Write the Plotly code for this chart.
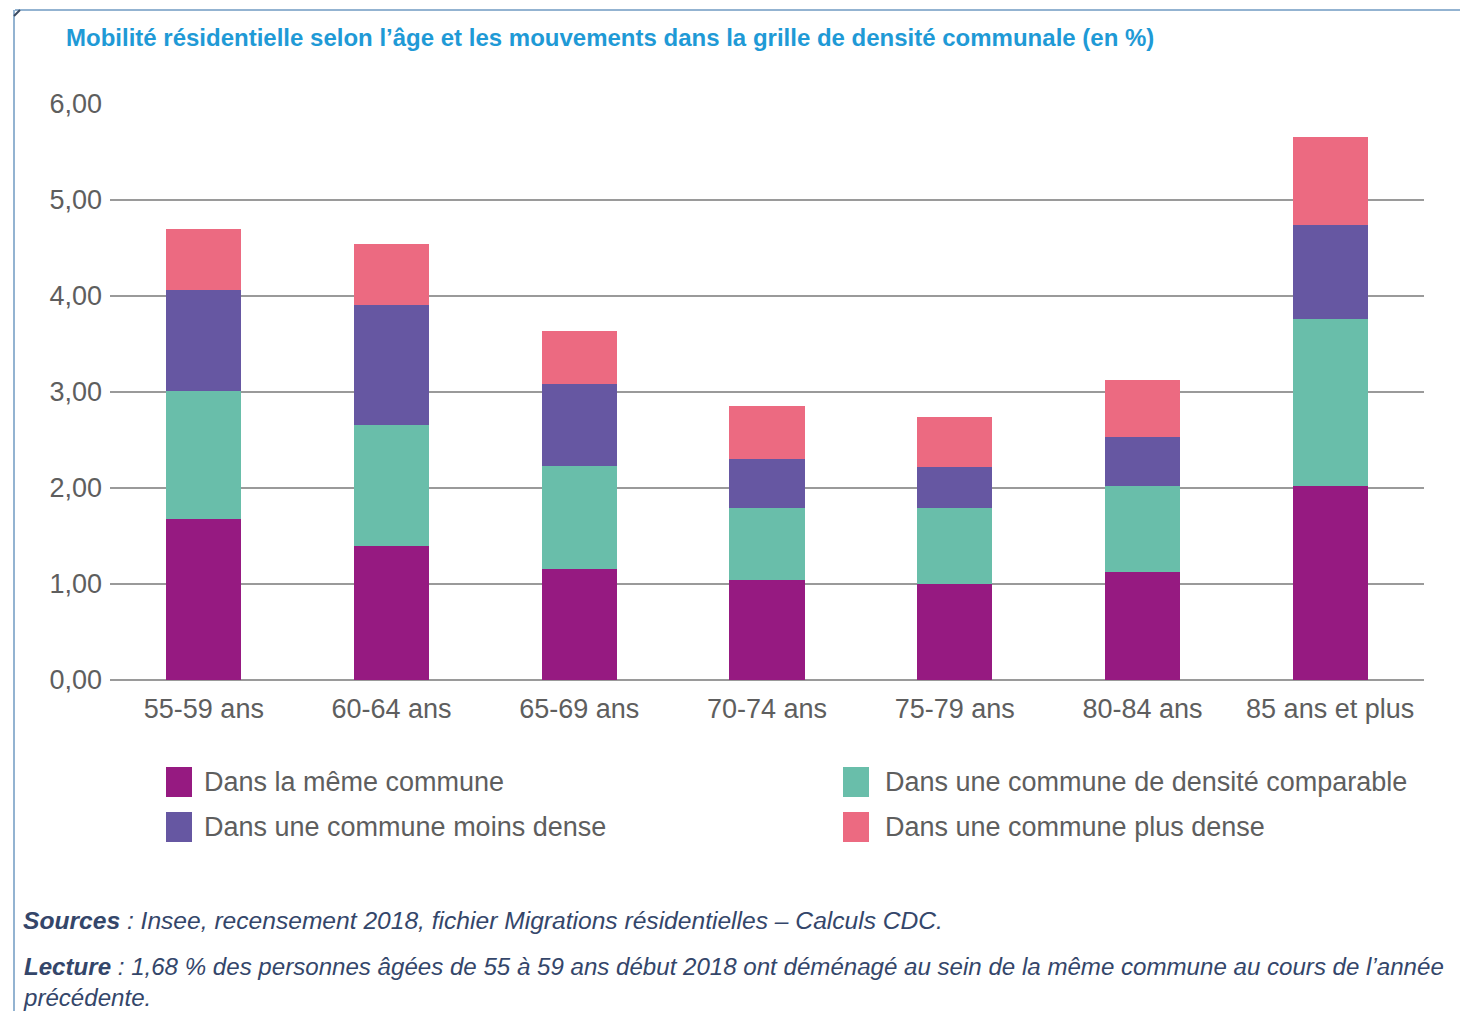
import plotly.graph_objects as go

categories = ["55-59 ans", "60-64 ans", "65-69 ans", "70-74 ans", "75-79 ans", "80-84 ans", "85 ans et plus"]
meme_commune = [1.68, 1.40, 1.16, 1.04, 1.00, 1.13, 2.02]
densite_comparable = [1.33, 1.26, 1.07, 0.75, 0.79, 0.89, 1.74]
moins_dense = [1.05, 1.25, 0.85, 0.51, 0.43, 0.51, 0.98]
plus_dense = [0.64, 0.63, 0.56, 0.55, 0.52, 0.60, 0.92]

series_names = [
    "Dans la même commune",
    "Dans une commune de densité comparable",
    "Dans une commune moins dense",
    "Dans une commune plus dense",
]
series_values = [meme_commune, densite_comparable, moins_dense, plus_dense]
series_colors = ["#961A81", "#69BEAA", "#6657A2", "#EC6A81"]

title_text = "Mobilité résidentielle selon l’âge et les mouvements dans la grille de densité communale (en %)"
sources_text = "<b>Sources</b> : Insee, recensement 2018, fichier Migrations résidentielles – Calculs CDC."
lecture_text = ("<b>Lecture</b> : 1,68 % des personnes âgées de 55 à 59 ans début 2018 ont déménagé au sein "
                "de la même commune au cours de l’année<br>précédente.")

# page offset (browser body margin) and figure size
OFF = 8
W, H = 1468 - 2 * OFF, 1019 - 2 * OFF
# plot area in screen pixels
X0, X1, Y0, Y1 = 110, 1424, 104, 680
L, R, T, B = X0 - OFF, (W + OFF) - X1, Y0 - OFF, (H + OFF) - Y1
PW, PH = X1 - X0, Y1 - Y0


def px(x):
    return (x - X0) / PW


def py(y):
    return (Y1 - y) / PH


FONT = "Liberation Sans, Arial, sans-serif"
GRAY = "#5E5E5E"

fig = go.Figure()
for name, vals, col in zip(series_names, series_values, series_colors):
    fig.add_trace(go.Bar(x=categories, y=vals, name=name, marker=dict(color=col, line=dict(width=0)),
                         showlegend=False))

shapes = []
annotations = []

# manual legend (large square swatches)
legend_pos = [(166, 205, 782), (843, 886, 782), (166, 205, 827), (843, 886, 827)]
for (sx, tx, cy), name, col in zip(legend_pos, series_names, series_colors):
    shapes.append(dict(type="rect", xref="paper", yref="paper",
                       x0=px(sx), x1=px(sx + 26), y0=py(cy - 15), y1=py(cy + 15),
                       fillcolor=col, line=dict(width=0)))
    annotations.append(dict(text=name, xref="paper", yref="paper", x=px(tx - 3), y=py(cy),
                            xanchor="left", yanchor="middle", showarrow=False,
                            font=dict(family=FONT, size=27, color=GRAY)))

# frame lines
shapes.append(dict(type="line", xref="paper", yref="paper", x0=px(15), x1=px(1480), y0=py(10), y1=py(10),
                   line=dict(color="#93B3D1", width=2)))
shapes.append(dict(type="line", xref="paper", yref="paper", x0=px(14), x1=px(14), y0=py(10), y1=py(1030),
                   line=dict(color="#93B3D1", width=2)))
shapes.append(dict(type="line", xref="paper", yref="paper", x0=px(14), x1=px(20), y0=py(16), y1=py(10),
                   line=dict(color="#3A4A60", width=2)))

annotations.append(dict(text="<b>" + title_text + "</b>", xref="paper", yref="paper", x=px(64), y=py(37),
                        xanchor="left", yanchor="middle", showarrow=False,
                        font=dict(family=FONT, size=24, color="#1F9AD6")))
annotations.append(dict(text="<i>" + sources_text + "</i>", xref="paper", yref="paper", x=px(21), y=py(920),
                        xanchor="left", yanchor="middle", showarrow=False, align="left",
                        font=dict(family=FONT, size=24.6, color="#34466A")))
annotations.append(dict(text="<i>" + lecture_text + "</i>", xref="paper", yref="paper", x=px(21), y=py(951),
                        xanchor="left", yanchor="top", showarrow=False, align="left",
                        font=dict(family=FONT, size=24.1, color="#34466A")))

fig.update_layout(
    width=W, height=H,
    margin=dict(l=L, r=R, t=T, b=B, pad=0),
    barmode="stack", bargap=0.6,
    paper_bgcolor="white", plot_bgcolor="white",
    separators=", ",
    font=dict(family=FONT, size=27, color=GRAY),
    shapes=shapes, annotations=annotations,
    showlegend=False,
)
fig.update_xaxes(showgrid=False, showline=False, ticks="", ticklabelstandoff=10,
                 tickfont=dict(family=FONT, size=27, color=GRAY))
fig.update_yaxes(range=[0, 6], dtick=1, tickformat=".2f", showgrid=True, gridcolor="#9A9A9A", gridwidth=2,
                 zeroline=True, zerolinecolor="#9A9A9A", zerolinewidth=2, showline=False, ticks="",
                 ticklabelstandoff=7, tickfont=dict(family=FONT, size=27, color=GRAY))

fig.write_html("out.html")
